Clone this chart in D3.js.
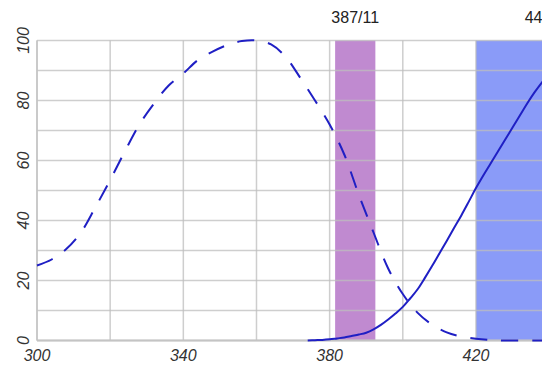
<!DOCTYPE html>
<html><head>
<meta charset="utf-8"/>
<script src="https://d3js.org/d3.v7.min.js"></script>
<style>
  body { margin: 0; padding: 0; background: #fff; width: 542px; height: 366px; overflow: hidden; font-family: Arial, 'Liberation Sans', sans-serif; }
  svg { display: block; }
</style>
</head>
<body>
<div id="chart"></div>
<script>
  // filter bands (centre / width in nm)
  const bandCenters = [387, 440];
  const bandWidths = [11, 40];
  const bandLabels = ["387/11", "440/40"];
  const bandColors = ["#c08ad0", "#8a9bf8"];

  // excitation-like curve (dashed)
  const dashX = [300, 304, 308, 312, 316, 320, 324, 328, 332, 336, 340, 344, 348, 352, 356, 360,
                 364, 368, 372, 376, 380, 384, 388, 392, 396, 400, 404, 408, 412, 416, 420, 424, 428, 440];
  const dashY = [25, 27, 30.5, 36, 44.5, 53.5, 63, 72, 79, 85, 89, 93.5, 96.3, 98.5, 99.8, 100,
                 98.7, 94.5, 87.5, 80, 72, 62, 48.5, 36, 24, 15.5, 9.3, 5.3, 2.7, 1.3, 0.6, 0.2, 0, 0];

  // emission-like curve (solid)
  const solidX = [374, 376, 378, 380, 382, 384, 386, 388, 390, 392, 394, 396, 398, 400, 402, 404, 406,
                  408, 410, 412, 414, 416, 418, 420, 422, 424, 426, 428, 430, 432, 434, 436, 438, 440];
  const solidY = [0, 0.1, 0.2, 0.4, 0.7, 1, 1.5, 2, 2.6, 3.7, 5.2, 7, 9, 11.2, 14, 17, 20.8,
                  24.8, 29, 33.2, 37.5, 41.7, 46.2, 50.8, 55, 59, 63, 67, 71, 75, 79, 82.7, 86, 89];

  const xTicks = [300, 340, 380, 420];
  const yTicks = [0, 20, 40, 60, 80, 100];

  const W = 542, H = 366;
  const margin = { top: 40.5, left: 37, bottom: 25.5 };
  const plotH = H - margin.top - margin.bottom;

  const svg = d3.select("#chart").append("svg")
      .attr("width", W).attr("height", H);

  const x = d3.scaleLinear().domain([300, 460]).range([margin.left, margin.left + 160 * 3.658]);
  const y = d3.scaleLinear().domain([0, 100]).range([margin.top + plotH, margin.top]);

  // bands
  svg.selectAll("rect.band")
    .data(bandCenters)
    .enter().append("rect")
    .attr("class", "band")
    .attr("x", (d, i) => x(d - bandWidths[i] / 2))
    .attr("width", (d, i) => x(d + bandWidths[i] / 2) - x(d - bandWidths[i] / 2))
    .attr("y", y(100))
    .attr("height", y(0) - y(100))
    .attr("fill", (d, i) => bandColors[i]);

  // grid
  const grid = svg.append("g").attr("stroke", "rgba(190,190,190,0.75)").attr("stroke-width", 1.5);
  grid.selectAll("line.v")
    .data(d3.range(300, 461, 20))
    .enter().append("line")
    .attr("x1", d => x(d)).attr("x2", d => x(d))
    .attr("y1", y(0)).attr("y2", y(100));
  grid.selectAll("line.h")
    .data(d3.range(0, 101, 10))
    .enter().append("line")
    .attr("x1", x(300)).attr("x2", W)
    .attr("y1", d => y(d)).attr("y2", d => y(d));

  // axes frame
  svg.append("line").attr("x1", x(300)).attr("x2", W).attr("y1", y(0)).attr("y2", y(0))
    .attr("stroke", "#c4c4c4").attr("stroke-width", 2);
  svg.append("line").attr("x1", x(300)).attr("x2", x(300)).attr("y1", y(0)).attr("y2", y(100))
    .attr("stroke", "#c4c4c4").attr("stroke-width", 1.5);

  // curves
  const line = d3.line().x(d => x(d[0])).y(d => y(d[1])).curve(d3.curveCatmullRom.alpha(0.5));
  svg.append("path")
    .datum(dashX.map((d, i) => [d, dashY[i]]))
    .attr("d", line)
    .attr("fill", "none")
    .attr("stroke", "#1f1fc4")
    .attr("stroke-width", 2)
    .attr("stroke-dasharray", "17,14");
  svg.append("path")
    .datum(solidX.map((d, i) => [d, solidY[i]]))
    .attr("d", line)
    .attr("fill", "none")
    .attr("stroke", "#1f1fc4")
    .attr("stroke-width", 2);

  // band labels
  svg.selectAll("text.band")
    .data(bandCenters)
    .enter().append("text")
    .attr("x", d => x(d))
    .attr("y", 23)
    .attr("text-anchor", "middle")
    .attr("font-size", "16px")
    .attr("fill", "#222")
    .text((d, i) => bandLabels[i]);

  // x tick labels
  svg.selectAll("text.xt")
    .data(xTicks)
    .enter().append("text")
    .attr("x", d => x(d))
    .attr("y", 361)
    .attr("text-anchor", "middle")
    .attr("font-size", "16px")
    .attr("font-style", "italic")
    .attr("fill", "#333")
    .text(d => d);

  // y tick labels (rotated)
  svg.selectAll("text.yt")
    .data(yTicks)
    .enter().append("text")
    .attr("transform", d => `translate(29,${y(d)}) rotate(-90)`)
    .attr("text-anchor", "middle")
    .attr("font-size", "16px")
    .attr("font-style", "italic")
    .attr("fill", "#333")
    .text(d => d);
</script>
</body></html>
